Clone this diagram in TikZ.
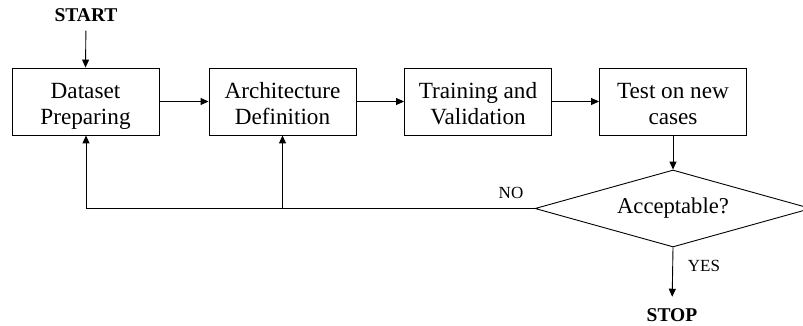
\documentclass[tikz,border=0pt]{standalone}
\usepackage{fontspec}
\setmainfont{Liberation Serif}
\usetikzlibrary{shapes.geometric,arrows.meta}

% struts that fix the extent of the two-line box labels,
% so all of them sit at the same level whatever their letters
\newcommand\firstline{\rule{0pt}{28.8pt}}
\newcommand\lastline{\rule[-7.8pt]{0pt}{7.8pt}}
\newcommand\twolines[2]{\firstline #1\\#2\lastline}

\tikzset{
  stepbox/.style={draw, line width=0.9pt, minimum width=147pt, minimum height=67pt,
    inner sep=0pt, align=center, font=\fontsize{23.2}{26}\selectfont},
  decision/.style={draw, diamond, line width=0.9pt, aspect=3.58, inner sep=0pt,
    minimum width=276pt, minimum height=77pt, font=\fontsize{22.6}{26}\selectfont},
  endpoint/.style={font=\fontsize{19.5}{22}\selectfont\bfseries, inner sep=0pt},
  answer/.style={font=\fontsize{17}{19}\selectfont, inner sep=0pt},
  conn/.style={line width=0.9pt},
  arr/.style={conn, -{Triangle[length=8pt,width=7pt]}}
}

\begin{document}
\begin{tikzpicture}[x=1pt,y=1pt]
  \useasboundingbox (0,0) rectangle (803,-326);

  % process steps
  \node[stepbox] (b1) at (85.5,-101.5) {\twolines{Dataset}{Preparing}};
  \node[stepbox] (b2) at (282.5,-101.5) {\twolines{Architecture}{Definition}};
  \node[stepbox] (b3) at (478,-101.5) {\twolines{Training and}{Validation}};
  \node[stepbox] (b4) at (673,-101.5) {\twolines{Test on new}{cases}};

  % decision
  \node[decision] (dec) at (673,-208.5) {Acceptable?};

  % terminals
  \node[endpoint] (start) at (86,-15) {START};
  \node[endpoint] (stop) at (672,-315.5) {STOP};

  % answer labels
  \node[answer] (no) at (511,-193) {NO};
  \node[answer] (yes) at (704,-266) {YES};

  % main flow
  \draw[arr, shorten <=9pt] (start.south) -- (b1.north);
  \draw[arr] (b1.east) -- (b2.west);
  \draw[arr] (b2.east) -- (b3.west);
  \draw[arr] (b3.east) -- (b4.west);
  \draw[arr] (b4.south) -- (dec.north);
  \draw[arr, shorten >=12pt] (dec.south) -- (stop.north);

  % feedback loop
  \coordinate (f1) at (86,-208.5);
  \coordinate (f2) at (282.5,-208.5);
  \draw[conn] (dec.west) -- (f1);
  \draw[arr] (f1) -- (f1 |- b1.south);
  \draw[arr] (f2) -- (b2.south);
\end{tikzpicture}
\end{document}
